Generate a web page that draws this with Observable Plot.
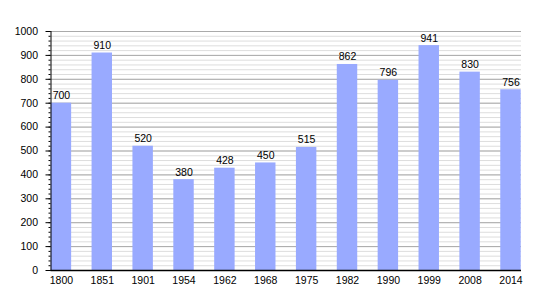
<!DOCTYPE html>
<html>
<head>
<meta charset="utf-8">
<script src="https://cdn.jsdelivr.net/npm/d3@7"></script>
<script src="https://cdn.jsdelivr.net/npm/@observablehq/plot@0.6"></script>
<style>
  body { margin: 0; background: #fff; }
  #chart svg { display: block; }
</style>
</head>
<body>
<div id="chart"></div>
<script>
const years = ["1800","1851","1901","1954","1962","1968","1975","1982","1990","1999","2008","2014"];
const population = [700, 910, 520, 380, 428, 450, 515, 862, 796, 941, 830, 756];
const majorTicks = [0,100,200,300,400,500,600,700,800,900,1000];
const minorTicks = d3.range(0, 1001, 20);

const data = years.map((y, i) => ({year: y, pop: population[i]}));

const chart = Plot.plot({
  width: 550,
  height: 300,
  marginLeft: 50.5,
  marginRight: 29,
  marginTop: 31,
  marginBottom: 30,
  style: {fontFamily: "Liberation Sans, Arial, sans-serif", fontSize: "10px", color: "#000", background: "#fff"},
  x: {domain: years, range: [50.7, 520.7], paddingInner: 0.5, paddingOuter: 0, round: false, label: null},
  y: {domain: [0, 1000], label: null},
  marks: [
    Plot.gridY(minorTicks, {stroke: "#dddddd", strokeOpacity: 1, strokeWidth: 1}),
    Plot.gridY(majorTicks, {stroke: "#aaaaaa", strokeOpacity: 1, strokeWidth: 1}),
    Plot.barY(data, {x: "year", y: "pop", fill: "#99aaff"}),
    Plot.text(data, {x: "year", y: "pop", text: d => String(d.pop), lineAnchor: "bottom", dy: -4, fill: "#000", fontSize: 10.5}),
    Plot.axisY(minorTicks, {tickSize: 2, tickFormat: () => "", stroke: "#000", label: null}),
    Plot.axisY(majorTicks, {tickSize: 5, tickPadding: 8, tickFormat: d => String(d), stroke: "#000", fill: "#000", fontSize: 10.5, label: null}),
    Plot.axisX({tickSize: 0, tickPadding: 6, fill: "#000", fontSize: 10.5, label: null}),
    Plot.frame({anchor: "left", stroke: "#000"}),
    Plot.ruleY([0], {stroke: "#000", strokeWidth: 1.5})
  ]
});
document.getElementById("chart").appendChild(chart);
</script>
</body>
</html>
